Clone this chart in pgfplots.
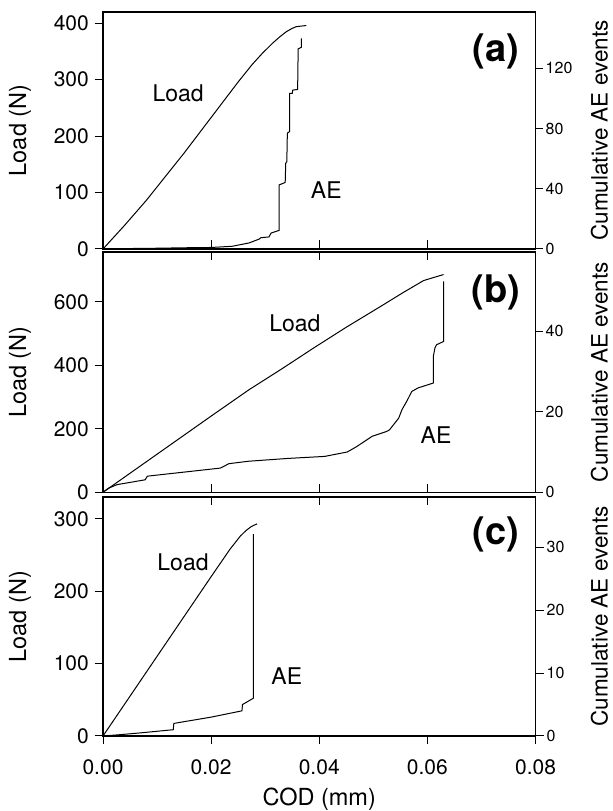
\documentclass[border=0pt]{standalone}
\usepackage{fontspec}
\setmainfont{TeX Gyre Heros}
\usepackage{pgfplots}
\pgfplotsset{compat=1.18}
\newcommand{\tfnt}{\fontsize{21bp}{23bp}\selectfont}
\newcommand{\lfnt}{\fontsize{23.5bp}{25bp}\selectfont}
\newcommand{\rlfnt}{\fontsize{22.5bp}{24bp}\selectfont}
\newcommand{\ifnt}{\fontsize{23bp}{25bp}\selectfont}
\newcommand{\rfnt}{\fontsize{16bp}{18bp}\selectfont}
\newcommand{\bfnt}{\fontsize{38bp}{40bp}\selectfont\bfseries}
\pgfplotsset{
  /pgf/number format/assume math mode=true,
  common/.style={
    scale only axis, width=432.5bp,
    xmin=0, xmax=0.08, xtick={0,0.02,0.04,0.06,0.08},
    scaled x ticks=false, scaled y ticks=false,
    major tick length=8.5bp,
    axis line style={line width=1.3bp},
    every tick/.style={black, line width=1bp},
  },
  leftax/.style={common,
    xtick align=inside,
    ytick pos=left, ytick align=outside,
    tick label style={font=\tfnt},
    yticklabel style={anchor=east, inner sep=0pt, xshift=-5.5bp},
    xticklabels={},
    every axis y label/.style={at={(axis description cs:-0.1919,0.5)}, rotate=90, anchor=center, font=\lfnt, inner sep=0pt},
    clip=false,
  },
  rightax/.style={common,
    axis y line*=right,
    ytick align=outside,
    yticklabel style={font=\rfnt, anchor=west, inner sep=0pt, xshift=3bp},
    every axis y label/.style={at={(axis description cs:1.1475,0.5)}, rotate=90, anchor=center, font=\rlfnt, inner sep=0pt},
  },
  dat/.style={black, line width=1bp, no marks},
}
\begin{document}
\begin{tikzpicture}[x=1bp,y=1bp]
\path[use as bounding box] (0,0) rectangle (613,811);
% ---------------- panel (a)
\begin{axis}[leftax, xtick pos=bottom, at={(103bp,562bp)}, anchor=south west, height=237bp,
  ymin=0, ymax=420, ytick={0,100,200,300,400}, ylabel={Load (N)}]
\addplot[dat] coordinates {(0,0) (0.004,42) (0.008,86) (0.010,110) (0.012,134) (0.015,170) (0.020,233) (0.025,296) (0.0276,327) (0.0295,347) (0.0314,365) (0.0327,376) (0.0339,385) (0.0350,391) (0.03575,394) (0.0376,396)};
\node[font=\ifnt] at (axis cs:0.0139,276) {Load};
\node[font=\ifnt] at (axis cs:0.0413,105) {AE};
\node[font=\bfnt] at (axis cs:0.0727,350) {(a)};
\end{axis}
\begin{axis}[rightax, hide x axis, major tick length=7bp, at={(103bp,562bp)}, anchor=south west, height=237bp,
  ymin=0, ymax=157.5, ytick={0,40,80,120}, ylabel={Cumulative AE events}]
\addplot[dat] coordinates {(0,0) (0.005,0.3) (0.010,0.5) (0.015,0.8) (0.020,1.0) (0.0239,1.8) (0.027,4) (0.0289,6.6) (0.0292,7.5) (0.0307,8) (0.0311,10.6) (0.0326,12.4) (0.0326,42.6) (0.0337,44.2) (0.0338,57) (0.0340,58) (0.0341,77) (0.0345,78) (0.0345,103.4) (0.0350,103.4) (0.0351,105.6) (0.0360,106) (0.0361,133) (0.0367,134) (0.0367,140)};
\end{axis}
% ---------------- panel (b)
\begin{axis}[leftax, xtick pos=both, at={(103bp,318.7bp)}, anchor=south west, height=240.3bp,
  ymin=0, ymax=757, ytick={0,200,400,600}, ylabel={Load (N)}]
\addplot[dat] coordinates {(0,0) (0.01,120) (0.02,240) (0.027,323) (0.033,388) (0.039,455) (0.045,520) (0.0513,585) (0.0556,630) (0.0593,667) (0.063,686)};
\node[font=\ifnt] at (axis cs:0.0355,532) {Load};
\node[font=\ifnt] at (axis cs:0.0616,180) {AE};
\node[font=\bfnt] at (axis cs:0.0727,630) {(b)};
\end{axis}
\begin{axis}[rightax, hide x axis, major tick length=7bp, at={(103bp,318.7bp)}, anchor=south west, height=240.3bp,
  ymin=0, ymax=59.6, ytick={0,20,40}, ylabel={Cumulative AE events}]
\addplot[dat] coordinates {(0,0) (0.001,1.0) (0.0026,1.9) (0.0078,3.1) (0.0082,4.0) (0.0217,6.0) (0.0233,7.1) (0.0269,7.7) (0.0342,8.4) (0.041,8.9) (0.0452,10) (0.0470,11.4) (0.0498,13.9) (0.0525,15.1) (0.0530,15.5) (0.0547,18.4) (0.0553,20.5) (0.0562,22.6) (0.0571,25) (0.0583,25.9) (0.0611,27.1) (0.0611,33.7) (0.0614,35.8) (0.0617,36.6) (0.063,37.4) (0.063,52.3)};
\end{axis}
% ---------------- panel (c)
\begin{axis}[leftax, xtick pos=top, at={(103bp,75bp)}, anchor=south west, height=239bp,
  ymin=0, ymax=330, ytick={0,100,200,300}, ylabel={Load (N)}]
\addplot[dat] coordinates {(0,0) (0.005,55) (0.010,110) (0.015,165) (0.020,220) (0.0235,258) (0.0254,276) (0.0265,284) (0.0274,289) (0.0285,293)};
\node[font=\ifnt] at (axis cs:0.0148,240) {Load};
\node[font=\ifnt] at (axis cs:0.0340,83) {AE};
\node[font=\bfnt] at (axis cs:0.0727,278) {(c)};
\end{axis}
\begin{axis}[rightax, at={(103bp,75bp)}, anchor=south west, height=239bp,
  axis x line*=bottom, xtick align=outside, xtick pos=bottom, major tick length=8bp,
  xticklabels={0.00,0.02,0.04,0.06,0.08},
  xticklabel style={font=\tfnt, anchor=center, yshift=-23bp},
  xlabel={COD (mm)},
  every axis x label/.style={at={(axis description cs:0.5,-0.2649)}, anchor=center, font=\lfnt, inner sep=0pt},
  ymin=0, ymax=38, ytick={0,10,20,30}, ylabel={Cumulative AE events}]
\addplot[dat] coordinates {(0,0) (0.003,0.2) (0.007,0.5) (0.0130,1.0) (0.0131,2.0) (0.020,3.0) (0.0257,4.0) (0.0258,5.0) (0.0278,6.0) (0.0278,32.1)};
\end{axis}
\end{tikzpicture}
\end{document}
